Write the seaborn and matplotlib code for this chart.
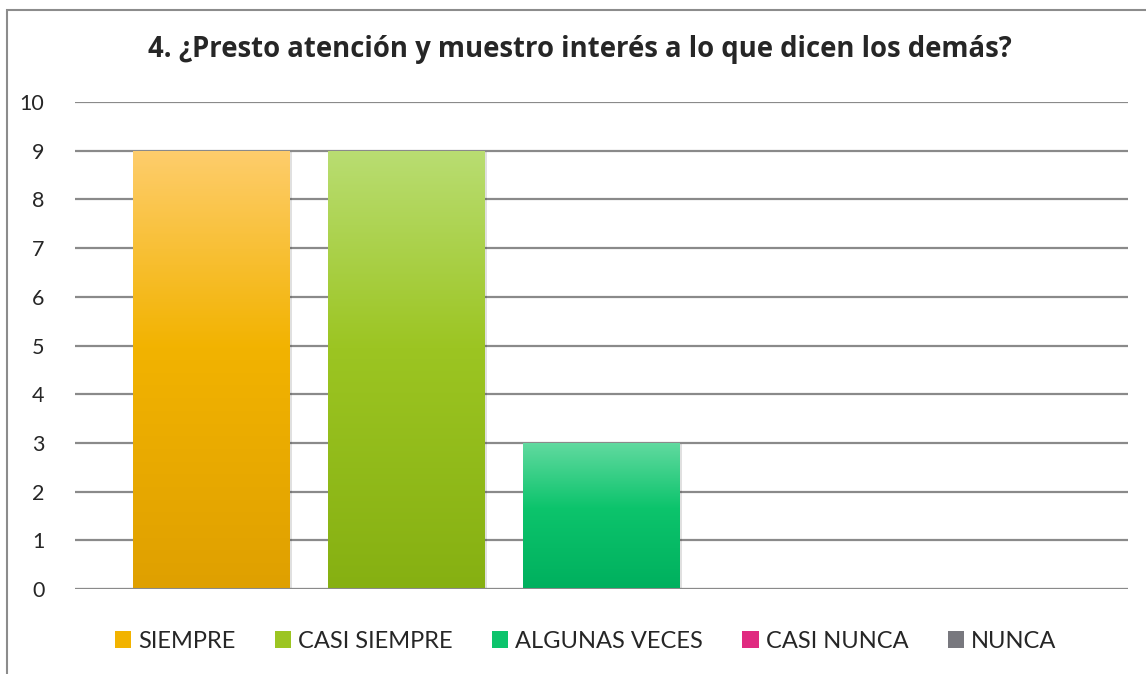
import numpy as np
import pandas as pd
import matplotlib
matplotlib.use("Agg")
import matplotlib.pyplot as plt
import matplotlib.colors as mcolors
from matplotlib.patches import Rectangle, Patch
import seaborn as sns

# Datos
categorias = ['SIEMPRE', 'CASI SIEMPRE', 'ALGUNAS VECES', 'CASI NUNCA', 'NUNCA']
valores = [9, 9, 3, 0, 0]
colores_arriba = ['#FECD6C', '#B9DD72', '#62DAA0', '#F06AA8', '#A0A0A8']
colores_medio = ['#F2B300', '#9CC522', '#0CC46C', '#E02A80', '#78787E']
colores_abajo = ['#DFA000', '#86B012', '#00B05E', '#D82070', '#606068']
titulo = '4. ¿Presto atención y muestro interés a lo que dicen los demás?'
yticks = list(range(0, 11))

df = pd.DataFrame({'categoria': categorias, 'valor': valores})

sns.set_style('white')
plt.rcParams['font.family'] = ['Lato', 'DejaVu Sans']

fig = plt.figure(figsize=(11.46, 6.74), dpi=100)
W, H = 1146, 674
ax = fig.add_axes([75 / W, 1 - 589 / H, (1128 - 75) / W, (589 - 102) / H])

# Borde del gráfico
fig.patches.append(Rectangle((7 / W, -0.1), 1.2, 1.1 - 10 / H, transform=fig.transFigure,
                             fill=False, edgecolor='#8c8c8c', linewidth=1.5, zorder=0))

sns.barplot(data=df, x='categoria', y='valor', hue='categoria', palette=colores_medio,
            width=0.805, legend=False, ax=ax, zorder=3, linewidth=0)

# Degradado en cada barra
for patch, c1, c2, c3 in zip(ax.patches, colores_arriba, colores_medio, colores_abajo):
    x0, y0 = patch.get_x(), patch.get_y()
    w, h = patch.get_width(), patch.get_height()
    if h <= 0:
        continue
    cmap = mcolors.LinearSegmentedColormap.from_list('g', [(0, c3), (0.55, c2), (1, c1)])
    grad = np.linspace(0, 1, 256).reshape(-1, 1)
    # sombra
    sh = Rectangle((x0 + 0.012, y0), w, h - 0.03, facecolor='#000000', alpha=0.12,
                   zorder=2.5, linewidth=0)
    ax.add_patch(sh)
    im = ax.imshow(grad, cmap=cmap, aspect='auto', origin='lower',
                   extent=(x0, x0 + w, y0, y0 + h), zorder=4)
    im.set_clip_path(patch)

ax.set_xlim(-0.7, 4.7)
ax.set_ylim(0, 10)
ax.set_yticks(yticks)
ax.set_yticklabels([str(t) for t in yticks], fontsize=15.5, color='#262626')
ax.set_xticks([])
ax.set_xlabel('')
ax.set_ylabel('')
ax.tick_params(axis='y', length=0, pad=22)
for s in ax.spines.values():
    s.set_visible(False)
for t in yticks:
    ax.axhline(t, color='#8a8a8a', linewidth=1.6, zorder=1)
ax.axhline(0, color='#8a8a8a', linewidth=2.2, zorder=5)

fig.text(0.506, 1 - 50 / H, titulo, ha='center', va='center', fontsize=19.8,
         fontweight='bold', color='#262626', family=['Open Sans', 'DejaVu Sans'])

handles = [Patch(facecolor=c, edgecolor='none') for c in colores_medio]
fig.legend(handles, categorias, loc='center', bbox_to_anchor=(0.511, 1 - 641 / H),
           ncol=5, frameon=False, fontsize=17, handlelength=0.7, handleheight=0.7,
           handletextpad=0.3, columnspacing=1.65, labelcolor='#262626')

fig.savefig('out.png', dpi=100)
